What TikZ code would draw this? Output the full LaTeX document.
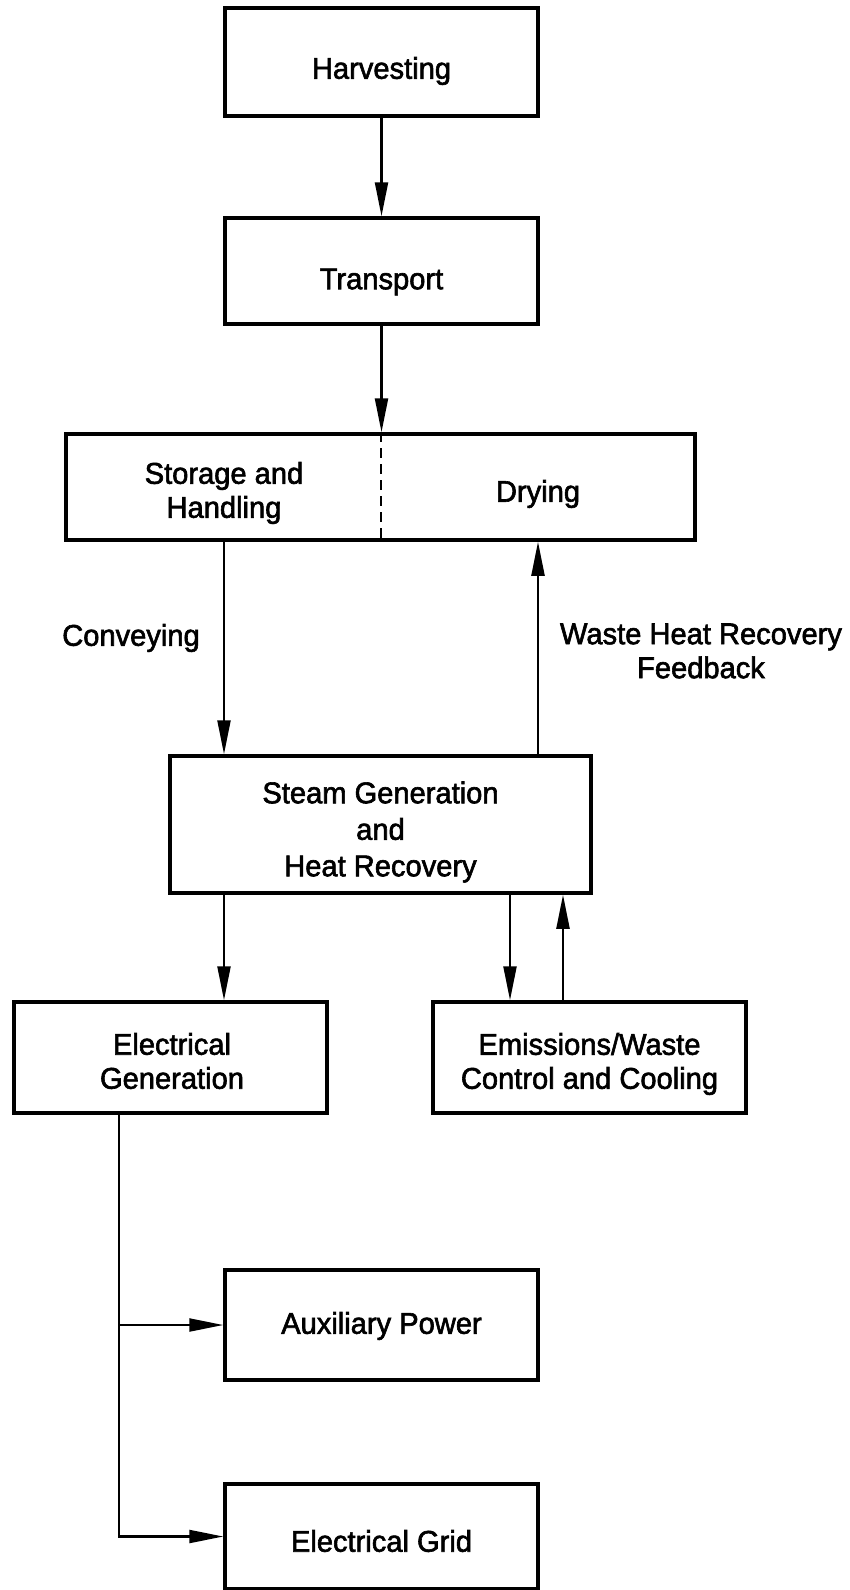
\documentclass[tikz,border=0pt]{standalone}
\usepackage{fontspec}
\setmainfont{Liberation Sans}[FakeStretch=0.97,FakeBold=2]
\usetikzlibrary{arrows.meta}
\begin{document}
\begin{tikzpicture}[x=1pt,y=-1pt,
  txt/.style={inner sep=0pt, align=center, font=\fontsize{30}{34}\selectfont},
  box/.style={draw, line width=3.5pt, minimum width=313pt, minimum height=108pt},
  arr/.style={line width=2.2pt, -{Triangle[length=34pt,width=13pt]}},
  dashdiv/.style={line width=2pt, dash pattern=on 10pt off 6pt}]
\useasboundingbox (0,0) rectangle (849,1590);
% boxes
\node[box] (harv) at (381.5,62) {};
\node[box, minimum height=106pt] (trans) at (381.5,271) {};
\node[box, minimum width=629pt, minimum height=106pt] (stor) at (380.5,487) {};
\node[box, minimum width=421pt, minimum height=137pt] (steam) at (380.5,824.5) {};
\node[box, minimum height=111pt] (elec) at (170.5,1057.5) {};
\node[box, minimum height=111pt] (emis) at (589.5,1057.5) {};
\node[box, minimum height=110pt] (aux) at (381.5,1325) {};
\node[box, minimum height=105pt] (grid) at (381.5,1536.5) {};
% texts
\node[txt] (harvt) at (381.5,71) {Harvesting};
\node[txt] (transt) at (381.5,282) {Transport};
\node[txt] (storl) at (224,493) {Storage and\\Handling};
\node[txt] (dry) at (538,494) {Drying};
\node[txt, font=\fontsize{30}{36.5}\selectfont] (steamt) at (380.5,832) {Steam Generation\\and\\Heat Recovery};
\node[txt] (elect) at (172,1061) {Electrical\\Generation};
\node[txt] (emist) at (589.5,1064) {Emissions/Waste\\Control and Cooling};
\node[txt] (auxt) at (381.5,1326) {Auxiliary Power};
\node[txt] (gridt) at (381.5,1541) {Electrical Grid};
% labels
\node[txt] (conv) at (131,638) {Conveying};
\node[txt] (whr) at (701,651) {Waste Heat Recovery\\Feedback};
% helper coordinates
\coordinate (xa) at (510,0);
\coordinate (xb) at (563,0);
\coordinate (xv) at (119,0);
% connectors
\draw[dashdiv] (stor.north) -- (stor.south);
\draw[arr] (harv.south) -- (trans.north);
\draw[arr] (trans.south) -- (trans.south |- stor.north);
\draw[arr] (stor.south -| storl) -- (steam.north -| storl);
\draw[arr] (steam.north -| dry) -- (stor.south -| dry);
\draw[arr] (steam.south -| storl) -- (elec.north -| storl);
\draw[arr] (steam.south -| xa) -- (emis.north -| xa);
\draw[arr] (emis.north -| xb) -- (steam.south -| xb);
\draw[arr] (elec.south -| xv) |- (grid.west);
\draw[arr] (aux.west -| xv) -- (aux.west);
\end{tikzpicture}
\end{document}
